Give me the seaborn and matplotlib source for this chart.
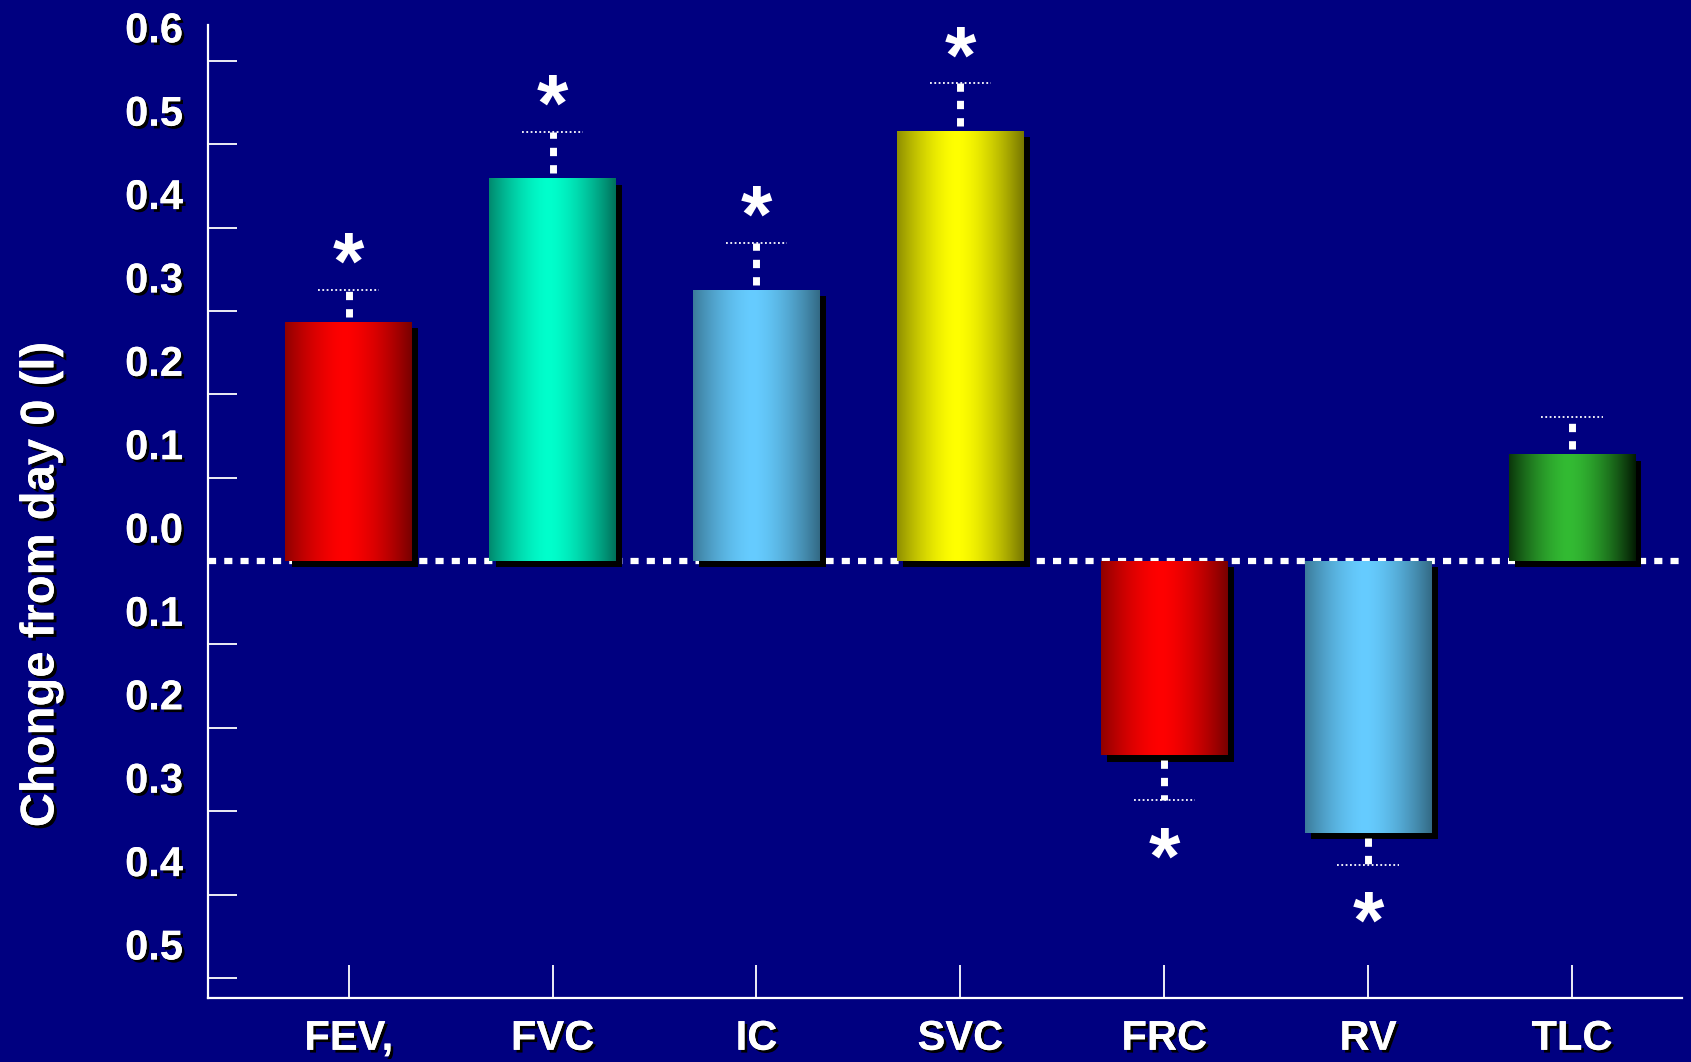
import numpy as np
import pandas as pd
import matplotlib
matplotlib.use("Agg")
import matplotlib.pyplot as plt
import matplotlib.patheffects as pe
import matplotlib.transforms as mtransforms
from matplotlib.colors import to_rgb
import seaborn as sns

# ---------------- data ----------------
categories = ["FEV,", "FVC", "IC", "SVC", "FRC", "RV", "TLC"]
changes = [0.287, 0.459, 0.325, 0.516, -0.233, -0.326, 0.128]
sem = [0.038, 0.056, 0.057, 0.057, 0.054, 0.038, 0.045]
significant = [True, True, True, True, True, True, False]
ytick_values = [0.6, 0.5, 0.4, 0.3, 0.2, 0.1, 0.0, -0.1, -0.2, -0.3, -0.4, -0.5]
ylabel_text = "Chonge from day 0 (l)"

# gradient colours (edge / centre) per bar
edge_colors = ["#780000", "#00705a", "#336a85", "#777700", "#780000", "#336a85", "#031a03"]
centre_colors = ["#ff0000", "#00ffcc", "#66ccff", "#ffff00", "#ff0000", "#66ccff", "#33bb33"]

# ---------------- style ----------------
BG = "#000080"
sns.set_theme(style="white")
plt.rcParams["font.family"] = ["Liberation Sans", "DejaVu Sans"]
plt.rcParams["font.weight"] = "bold"

fig = plt.figure(figsize=(16.91, 10.62), dpi=100, facecolor=BG)
ax = fig.add_axes([0.123, 0.0603, 0.8717, 0.9162])
ax.set_facecolor(BG)

df = pd.DataFrame({"param": categories, "change": changes})
sns.barplot(data=df, x="param", y="change", order=categories, width=0.62,
            color="#800000", saturation=1, errorbar=None, ax=ax, zorder=2)

shadow = [pe.withSimplePatchShadow(offset=(4.5, -4.5), shadow_rgbFace="black", alpha=1.0),
          pe.Normal()]

t = np.linspace(0, 1, 256)
g = np.clip(1 - (np.abs(t - 0.47) / 0.53) ** 1.6, 0, 1)
for patch, ec, cc in zip(ax.patches, edge_colors, centre_colors):
    x0, y0 = patch.get_x(), patch.get_y()
    w, h = patch.get_width(), patch.get_height()
    dk = np.array(to_rgb(ec))
    br = np.array(to_rgb(cc))
    img = dk[None, :] + (br - dk)[None, :] * g[:, None]
    patch.set_linewidth(0)
    patch.set_path_effects(shadow)
    im = ax.imshow(img[None, :, :], extent=[x0, x0 + w, min(y0, y0 + h), max(y0, y0 + h)],
                   aspect="auto", interpolation="bilinear", zorder=2.1)
    im.set_clip_path(patch)

# zero reference line (dotted)
ax.axhline(0, color="white", lw=4.5, linestyle=(0, (1.3, 1.3)), zorder=1)

# error bars (one-sided, dotted) and significance asterisks
for i, (v, e, s) in enumerate(zip(changes, sem, significant)):
    sign = 1 if v >= 0 else -1
    end = v + sign * e
    ax.plot([i, i], [v + sign * 0.006, end], color="white", lw=5, linestyle=(0, (1.2, 1.3)),
            dash_capstyle="butt", zorder=4)
    ax.plot([i - 0.15, i + 0.15], [end, end], color="white", lw=1.3,
            linestyle=(0, (1, 1.4)), zorder=4)
    if s:
        ax.annotate("*", xy=(i, end), xytext=(0, 16 if sign > 0 else -45),
                    textcoords="offset points", ha="center", va="center",
                    fontsize=58, color="white", fontweight="bold", zorder=5)

# axes
ax.set_xlim(-0.69, 6.54)
ax.set_ylim(-0.524, 0.643)
ax.set_yticks(ytick_values)
ax.set_yticklabels([f"{abs(v):.1f}" for v in ytick_values])
ax.set_xlabel("")
ax.set_ylabel(ylabel_text, fontsize=34, color="white", fontweight="bold", va="center",
              path_effects=[pe.withSimplePatchShadow(offset=(2.2, -2.2), shadow_rgbFace="black", alpha=1.0), pe.Normal()])
ax.yaxis.set_label_coords(-0.113, 0.425)

ax.tick_params(axis="y", direction="in", length=21, width=1.3, colors="white",
               pad=18, labelsize=30, left=True)
ax.tick_params(axis="x", direction="in", length=24, width=1.3, colors="white",
               pad=15, labelsize=30, bottom=True)
# no tick mark at the zero line
for tick, v in zip(ax.yaxis.get_major_ticks(), ytick_values):
    if v == 0.0:
        tick.tick1line.set_visible(False)

txt_shadow = [pe.withSimplePatchShadow(offset=(2, -2), shadow_rgbFace="black", alpha=1.0), pe.Normal()]
label_shift = mtransforms.ScaledTranslation(0, 0.34, fig.dpi_scale_trans)
for lbl in ax.get_yticklabels():
    lbl.set_transform(lbl.get_transform() + label_shift)
for lbl in ax.get_yticklabels() + ax.get_xticklabels():
    lbl.set_fontweight("bold")
    lbl.set_path_effects(txt_shadow)

for side in ["top", "right"]:
    ax.spines[side].set_visible(False)
for side in ["left", "bottom"]:
    ax.spines[side].set_visible(True)
    ax.spines[side].set_color("white")
    ax.spines[side].set_linewidth(1.6)

fig.savefig("out.png", dpi=100, facecolor=BG)
